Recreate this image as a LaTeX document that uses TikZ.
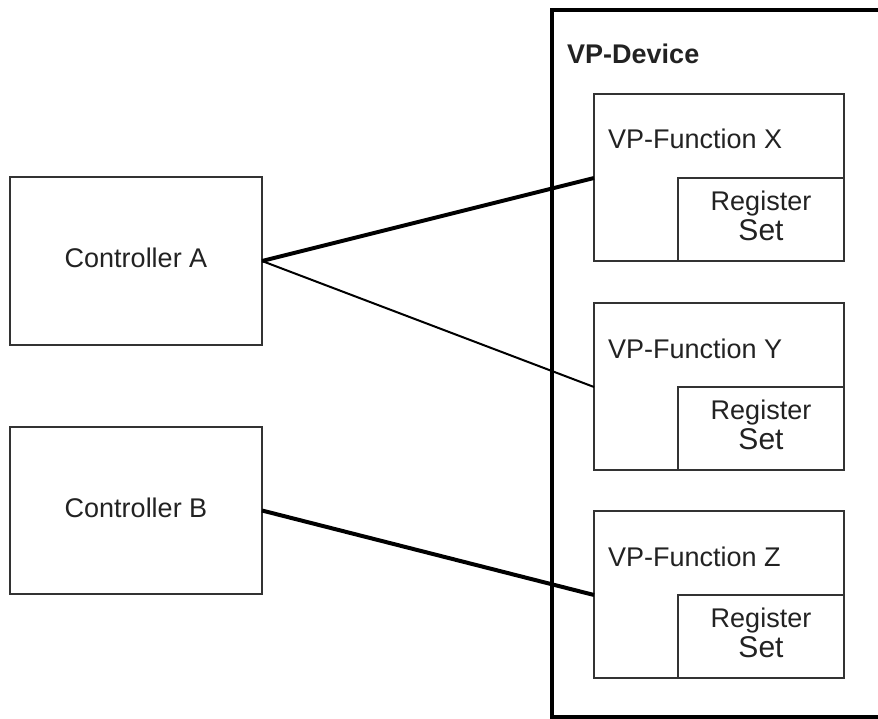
\documentclass[tikz,border=0pt]{standalone}
\usepackage{fontspec}
\setmainfont{Liberation Sans}
\definecolor{txt}{HTML}{222222}
\definecolor{edge}{HTML}{333333}
\tikzset{
  x=1pt, y=-1pt,
  box/.style={draw=edge, line width=1.5pt, fill=white, inner sep=0pt, outer sep=0pt, anchor=north west},
  lbl/.style={text=txt, inner sep=0pt, font=\fontsize{27}{32}\selectfont},
  thickline/.style={line width=4pt, black},
  thinline/.style={line width=2pt, black},
}
\begin{document}
\begin{tikzpicture}
\clip (0,0) rectangle (878,719);
\fill[white] (0,0) rectangle (878,719);
% VP-Device
\node[box, draw=black, line width=4pt, minimum width=340pt, minimum height=707pt] (dev) at (552,10) {};
\node[lbl, font=\bfseries\fontsize{27}{32}\selectfont, anchor=base west] (devl) at (567,64) {VP-Device};
% Controllers
\node[box, minimum width=252pt, minimum height=168pt] (ca) at (10,177) {};
\node[lbl] (cal) at (136,258) {Controller A};
\node[box, minimum width=252pt, minimum height=167pt] (cb) at (10,427) {};
\node[lbl] (cbl) at (136,508) {Controller B};
% Functions
\foreach \n/\t/\yy in {x/X/94, y/Y/303, z/Z/511}{
  \node[box, minimum width=250pt, minimum height=167pt] (f\n) at (594,\yy) {};
  \node[lbl, anchor=base west] (f\n l) at (608,\yy+55) {VP-Function \t};
  \node[box, minimum width=166pt, minimum height=83pt] (r\n) at (678,\yy+84) {};
  \node[lbl, align=center] (r\n l) at (761,\yy+122) {Register\\[-2pt]{\fontsize{30}{32}\selectfont Set}};
}
% Connectors
\draw[thickline] (ca.east) -- (fx.west |- rx.north);
\draw[thinline] (ca.east) -- (fy.west |- ry.north);
\draw[thickline] (cb.east) -- (fz.west |- rz.north);
\end{tikzpicture}
\end{document}
